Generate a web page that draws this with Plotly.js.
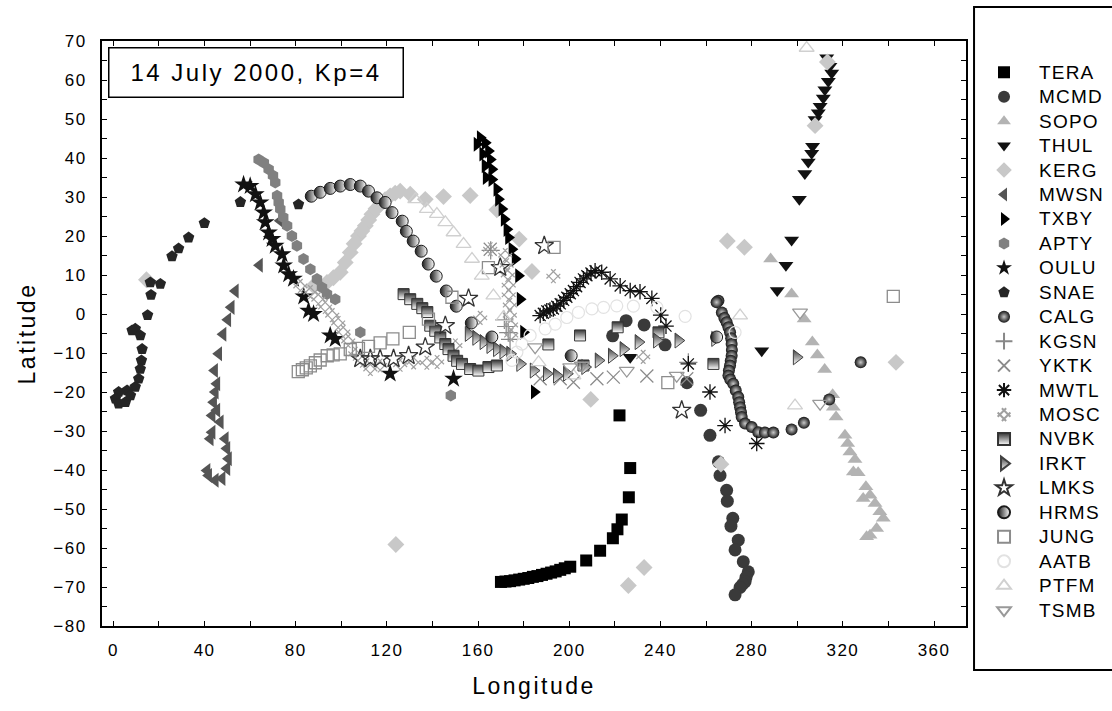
<!DOCTYPE html>
<html>
<head>
<meta charset="utf-8">
<script src="https://cdn.plot.ly/plotly-3.0.1.min.js"></script>
<style>
html,body{margin:0;padding:0;background:#fff;}
#chart{width:1112px;height:711px;}
#chart .legendtext{font-size:19px !important; letter-spacing:1.2px;}
#chart .legend .scrollbox, #chart .legend g{clip-path:none !important;}
#chart .xtick text, #chart .ytick text{letter-spacing:1.5px;}
#chart .g-xtitle text, #chart .g-ytitle text{letter-spacing:2.5px;}
#chart .annotation-text{letter-spacing:2.5px;}
</style>
</head>
<body>
<div id="chart"></div>
<script>
// ---- Data (longitude, latitude) ----
const TERA_lon = [222.0, 226.7, 226.1, 223.0, 221.1, 219.1, 213.5, 207.4, 200.4, 198.0, 196.0, 194.0, 192.0, 190.0, 188.0, 186.0, 184.0, 182.0, 180.0, 178.0, 176.0, 174.0, 172.0, 170.0];
const TERA_lat = [-26.0, -39.5, -47.0, -52.7, -55.2, -57.5, -60.7, -63.2, -64.8, -65.2, -65.6, -66.0, -66.3, -66.6, -66.9, -67.2, -67.4, -67.7, -67.9, -68.1, -68.3, -68.5, -68.6, -68.7];

const MCMD_lon = [219.0, 224.9, 232.8, 242.0, 251.6, 257.6, 261.7, 265.4, 266.1, 269.0, 269.3, 271.7, 270.9, 274.1, 272.7, 276.3, 278.5, 277.5, 277.1, 276.0, 274.9, 272.7];
const MCMD_lat = [-5.6, -1.7, -2.8, -7.9, -17.6, -24.7, -31.1, -37.9, -41.4, -45.2, -48.0, -52.4, -54.4, -58.0, -60.5, -63.5, -66.1, -67.5, -68.6, -69.3, -70.1, -72.0];

const SOPO_lon = [288.3, 297.5, 303.0, 306.6, 308.8, 312.0, 315.5, 315.8, 317.0, 320.9, 322.1, 323.1, 325.3, 324.6, 326.7, 330.1, 328.9, 331.9, 334.1, 336.2, 337.7, 334.8, 331.9, 330.4];
const SOPO_lat = [14.1, 5.1, -1.3, -7.2, -10.5, -14.2, -20.7, -23.9, -26.4, -31.1, -33.2, -35.4, -37.3, -40.5, -40.7, -44.3, -47.3, -46.5, -48.6, -50.7, -52.4, -55.0, -56.7, -57.1];

const THUL_lon = [312.9, 314.3, 315.1, 313.6, 312.1, 311.4, 310.0, 309.2, 307.8, 306.7, 306.3, 304.8, 303.3, 300.9, 297.5, 295.0, 291.2, 284.4, 226.7];
const THUL_lat = [65.7, 63.5, 61.8, 59.7, 57.5, 55.4, 53.3, 51.6, 49.9, 43.0, 41.2, 39.0, 36.0, 29.4, 19.0, 12.5, 6.0, -9.4, -11.1];

const KERG_lon = [14.5, 87.8, 93.7, 96.5, 99.5, 101.7, 103.9, 105.6, 107.5, 109.0, 110.5, 112.0, 113.4, 115.2, 117.0, 119.2, 121.4, 123.6, 125.8, 130.2, 136.8, 144.8, 156.5, 168.2, 178.0, 183.6, 209.4, 232.8, 225.9, 123.9, 266.5, 269.3, 276.8, 307.8, 313.2, 343.3];
const KERG_lat = [8.8, 7.2, 8.1, 9.3, 10.7, 13.2, 15.8, 18.0, 20.0, 21.3, 22.6, 24.1, 25.6, 27.0, 28.1, 29.3, 30.3, 31.0, 31.5, 30.7, 29.4, 30.1, 30.4, 26.7, 19.2, 10.9, -21.9, -65.0, -69.6, -59.1, -38.5, 18.7, 17.1, 48.3, 64.6, -12.4];

const MWSN_lon = [64.1, 73.2, 53.5, 51.7, 50.2, 48.1, 46.2, 44.4, 45.4, 44.7, 44.0, 45.4, 43.3, 46.9, 43.3, 42.5, 49.1, 49.8, 50.5, 49.8, 47.7, 44.7, 41.8, 41.1];
const MWSN_lat = [12.5, 23.9, 5.9, 1.7, -1.5, -5.2, -10.2, -14.5, -17.9, -20.0, -22.6, -24.7, -26.0, -27.7, -30.3, -32.0, -32.0, -34.5, -37.1, -39.6, -42.2, -42.6, -41.4, -40.1];

const TXBY_lon = [160.9, 159.5, 163.1, 162.0, 164.5, 163.0, 165.3, 163.5, 166.0, 166.0, 168.2, 168.9, 170.4, 171.4, 172.6, 173.3, 174.8, 176.2, 177.7, 178.4, 179.9, 184.6];
const TXBY_lat = [45.2, 43.5, 43.9, 41.0, 41.8, 38.0, 39.6, 35.0, 37.1, 34.5, 32.0, 29.4, 26.9, 24.3, 21.7, 19.6, 16.6, 14.1, 9.8, 3.8, -4.7, -20.0];

const APTY_lon = [63.7, 66.0, 68.1, 70.0, 71.0, 71.8, 72.5, 73.2, 74.5, 76.2, 78.3, 80.5, 83.4, 86.4, 89.3, 91.5, 93.7, 97.3, 108.3, 148.0];
const APTY_lat = [39.6, 38.8, 37.1, 35.5, 33.7, 30.3, 28.6, 26.9, 24.8, 22.6, 20.0, 17.5, 14.1, 11.5, 9.0, 6.8, 5.1, 3.8, -4.7, -20.9];

const OULU_lon = [57.1, 60.0, 62.3, 64.4, 65.9, 66.6, 68.1, 69.6, 71.0, 74.0, 74.7, 76.9, 79.0, 83.5, 85.6, 87.8, 95.1, 97.3, 121.4, 149.2];
const OULU_lat = [33.2, 32.8, 30.7, 28.6, 26.0, 23.5, 20.9, 19.2, 17.5, 15.3, 12.4, 10.2, 9.0, 4.5, 0.8, 0.0, -5.5, -6.4, -15.3, -16.6];

const SNAE_lon = [55.7, 81.2, 39.9, 33.0, 28.6, 25.7, 20.6, 16.2, 16.5, 15.0, 9.6, 8.2, 11.8, 12.6, 12.3, 11.8, 11.1, 9.6, 6.0, 2.3, 0.9, 2.3, 5.3, 7.5];
const SNAE_lat = [28.7, 28.1, 23.3, 19.6, 16.8, 14.8, 7.7, 8.1, 4.9, -0.3, -3.8, -4.2, -5.5, -9.0, -11.9, -14.1, -16.6, -18.7, -19.6, -20.0, -21.7, -23.0, -22.6, -20.9];

const CALG_lon = [265.4, 264.6, 266.9, 268.0, 269.0, 269.8, 270.5, 271.0, 271.2, 271.3, 271.2, 270.8, 270.5, 270.0, 269.8, 270.6, 271.9, 273.0, 274.1, 274.5, 274.9, 275.3, 275.6, 277.1, 280.0, 282.9, 285.8, 289.5, 297.5, 302.9, 314.0, 327.8];
const CALG_lat = [3.4, 3.0, 0.4, -1.0, -2.1, -3.4, -4.7, -6.2, -7.7, -9.2, -10.7, -12.0, -13.2, -14.5, -15.8, -16.8, -17.9, -19.6, -21.3, -22.6, -23.9, -25.2, -26.4, -28.1, -29.0, -30.3, -30.4, -30.4, -29.6, -27.9, -21.9, -12.4];

const KGSN_lon = [165.5, 171.5, 172.3, 173.2, 174.0, 252.2];
const KGSN_lat = [16.3, -1.5, -3.2, -4.8, -6.5, -12.4];

const YKTK_lon = [165.3, 187.2, 196.0, 201.8, 212.1, 219.3, 234.0, 251.5];
const YKTK_lat = [16.6, -16.6, -16.6, -17.5, -16.6, -16.2, -15.9, -16.6];

const MWTL_lon = [187.2, 188.6, 190.1, 191.5, 193.0, 194.5, 196.0, 197.5, 198.9, 200.4, 201.8, 203.2, 204.7, 206.2, 207.7, 209.5, 211.3, 214.2, 217.9, 222.3, 226.7, 231.0, 236.2, 240.1, 242.4, 252.2, 261.7, 268.3, 282.2];
const MWTL_lat = [-0.4, 0.2, 0.8, 1.0, 1.3, 2.0, 2.6, 3.5, 4.3, 5.2, 6.0, 7.0, 8.1, 9.0, 9.8, 10.5, 11.1, 10.7, 9.0, 7.2, 6.0, 5.7, 4.0, -0.3, -3.1, -12.8, -20.0, -28.6, -33.2];

const MOSC_lon = [82.0, 86.4, 89.9, 92.9, 96.0, 98.6, 100.8, 103.0, 106.1, 109.2, 112.7, 117.0, 125.8, 131.7, 137.5, 142.0, 150.0, 160.9, 165.3, 171.9, 172.5, 173.0, 173.4, 173.4, 173.9, 173.9, 174.4, 174.5, 193.0, 232.4];
const MOSC_lat = [7.2, 5.6, 3.8, 1.8, -0.3, -2.3, -4.6, -6.9, -10.2, -12.0, -14.1, -13.2, -13.0, -12.4, -12.5, -12.3, -8.1, -1.0, 16.6, 15.1, 12.5, 10.0, 7.4, 4.9, 2.3, -0.3, -2.8, -5.4, 9.7, -11.0];

const NVBK_lon = [127.3, 130.2, 133.3, 135.5, 137.7, 139.0, 141.2, 143.4, 145.6, 147.0, 149.2, 150.8, 152.9, 156.5, 160.1, 164.5, 168.2, 190.8, 204.7, 206.2, 221.2, 239.1, 263.2];
const NVBK_lat = [5.1, 3.8, 2.6, 1.5, 0.5, -3.0, -4.3, -6.0, -7.7, -9.0, -10.7, -12.0, -12.8, -14.1, -14.5, -13.6, -13.2, -7.8, -5.5, -13.2, -3.4, -4.7, -12.8];

const IRKT_lon = [155.8, 159.1, 162.3, 165.3, 168.2, 171.0, 174.0, 178.4, 184.3, 190.1, 194.5, 198.9, 206.9, 212.8, 218.6, 223.7, 230.3, 238.4, 247.8, 263.9, 299.7];
const IRKT_lat = [-5.1, -6.1, -7.2, -8.2, -9.0, -9.6, -10.2, -12.8, -14.5, -15.3, -15.8, -15.3, -13.6, -11.9, -10.7, -9.0, -7.2, -6.8, -6.8, -6.4, -11.1];

const LMKS_lon = [108.3, 112.7, 117.0, 122.9, 129.5, 136.8, 145.6, 155.8, 169.7, 189.0, 249.3];
const LMKS_lat = [-11.5, -11.5, -11.5, -11.5, -10.7, -8.5, -3.0, 4.0, 11.9, 17.5, -24.7];

const HRMS_lon = [86.8, 90.7, 95.1, 99.5, 103.9, 108.3, 111.9, 115.6, 119.2, 122.2, 126.7, 128.5, 131.5, 135.0, 138.1, 141.6, 146.0, 150.4, 157.0, 166.0, 200.8, 264.6];
const HRMS_lat = [30.2, 31.2, 32.2, 32.8, 33.2, 32.8, 31.5, 29.8, 28.6, 26.0, 23.8, 21.2, 18.7, 16.1, 12.8, 9.7, 5.9, 2.0, -2.3, -5.9, -10.7, -5.9];

const JUNG_lon = [81.1, 82.9, 84.6, 86.4, 88.6, 90.7, 93.8, 96.4, 99.5, 103.9, 107.5, 111.9, 117.0, 122.6, 129.8, 138.2, 148.5, 164.5, 193.3, 243.2, 342.1];
const JUNG_lat = [-14.8, -14.3, -13.8, -13.3, -12.5, -11.8, -10.7, -10.5, -10.2, -9.1, -8.8, -8.3, -7.4, -6.4, -4.7, -1.3, 4.3, 11.9, 17.1, -17.6, 4.5];

const AATB_lon = [174.8, 177.0, 179.2, 182.8, 189.4, 193.8, 198.9, 204.0, 209.9, 215.0, 220.8, 228.1, 238.4, 250.8, 272.7];
const AATB_lat = [-11.9, -9.8, -7.7, -5.5, -3.8, -2.6, -0.9, 0.4, 1.3, 1.7, 2.1, 2.0, 1.7, -0.6, -4.7];

const PTFM_lon = [132.4, 137.5, 141.9, 145.6, 149.2, 153.6, 157.3, 161.6, 166.7, 171.1, 186.5, 201.8, 304.1, 274.9, 299.0];
const PTFM_lat = [29.4, 26.9, 25.6, 23.5, 20.9, 17.9, 14.1, 9.8, 4.7, -0.8, -12.4, -15.8, 68.2, -0.4, -23.5];

const TSMB_lon = [185.0, 200.4, 205.5, 225.2, 247.1, 301.2, 310.0];
const TSMB_lat = [-8.5, -13.6, -13.2, -14.5, -15.8, 0.4, -23.0];

const stations = ['TERA','MCMD','SOPO','THUL','KERG','MWSN','TXBY','APTY','OULU','SNAE','CALG','KGSN','YKTK','MWTL','MOSC','NVBK','IRKT','LMKS','HRMS','JUNG','AATB','PTFM','TSMB'];
const lons = [TERA_lon, MCMD_lon, SOPO_lon, THUL_lon, KERG_lon, MWSN_lon, TXBY_lon, APTY_lon, OULU_lon, SNAE_lon, CALG_lon, KGSN_lon, YKTK_lon, MWTL_lon, MOSC_lon, NVBK_lon, IRKT_lon, LMKS_lon, HRMS_lon, JUNG_lon, AATB_lon, PTFM_lon, TSMB_lon];
const lats = [TERA_lat, MCMD_lat, SOPO_lat, THUL_lat, KERG_lat, MWSN_lat, TXBY_lat, APTY_lat, OULU_lat, SNAE_lat, CALG_lat, KGSN_lat, YKTK_lat, MWTL_lat, MOSC_lat, NVBK_lat, IRKT_lat, LMKS_lat, HRMS_lat, JUNG_lat, AATB_lat, PTFM_lat, TSMB_lat];

// ---- Marker styles ----
const styles = {
  TERA: {symbol:'square', size:12, color:'#000000'},
  MCMD: {symbol:'circle', size:13, color:'#3a3a3a'},
  SOPO: {symbol:'triangle-up', size:13, color:'#b3b3b3'},
  THUL: {symbol:'triangle-down', size:13, color:'#111111'},
  KERG: {symbol:'diamond', size:13, color:'#c8c8c8'},
  MWSN: {symbol:'triangle-left', size:13, color:'#555555'},
  TXBY: {symbol:'triangle-right', size:13, color:'#000000'},
  APTY: {symbol:'hexagon', size:12, color:'#808080'},
  OULU: {symbol:'star', size:14, color:'#111111'},
  SNAE: {symbol:'pentagon', size:12, color:'#252525'},
  CALG: {symbol:'circle', size:12, color:'#151515', gradient:{type:'radial', color:'#c8c8c8'}},
  KGSN: {symbol:'cross-thin-open', size:13, color:'#888888', lw:1.2},
  YKTK: {symbol:'x-thin-open', size:13, color:'#8a8a8a', lw:1.2},
  MWTL: {symbol:'asterisk-open', size:13, color:'#111111', lw:1.3},
  MOSC: {symbol:'hash-open', size:13, color:'#a0a0a0', lw:1.2, angle:45},
  NVBK: {symbol:'square', size:11, color:'#333333', gradient:{type:'vertical', color:'#ffffff'}, line:'#333333'},
  IRKT: {symbol:'triangle-right', size:13, color:'#404040', gradient:{type:'vertical', color:'#ffffff'}, line:'#404040'},
  LMKS: {symbol:'star-open', size:14, color:'#333333', lw:1.3},
  HRMS: {symbol:'circle', size:12, color:'#1a1a1a', gradient:{type:'horizontal', color:'#ffffff'}, line:'#1a1a1a'},
  JUNG: {symbol:'square-open', size:12, color:'#8c8c8c', lw:1.3},
  AATB: {symbol:'circle-open', size:12, color:'#e2e2e2', lw:1.2},
  PTFM: {symbol:'triangle-up-open', size:13, color:'#d0d0d0', lw:1.3},
  TSMB: {symbol:'triangle-down-open', size:13, color:'#999999', lw:1.3}
};

const traces = stations.map((name, i) => {
  const s = styles[name];
  const marker = {symbol: s.symbol, size: s.size, color: s.color};
  if (s.gradient) marker.gradient = s.gradient;
  if (s.angle) marker.angle = s.angle;
  if (s.line) marker.line = {color: s.line, width: 1};
  else if (s.lw) marker.line = {color: s.color, width: s.lw};
  else marker.line = {width: 0};
  return {type:'scatter', mode:'markers', name: name, x: lons[i], y: lats[i], marker: marker, cliponaxis: true};
});

const axisCommon = {
  showline:true, linewidth:2, linecolor:'#000', mirror:'ticks',
  ticks:'inside', ticklen:5, tickwidth:1, tickcolor:'#000',
  showgrid:false, zeroline:false,
  tickfont:{size:17, color:'#000'}
};

const layout = {
  width:1112, height:711,
  margin:{l:102, r:146, t:41, b:85},
  paper_bgcolor:'#ffffff', plot_bgcolor:'#ffffff',
  font:{family:'Arial, "Liberation Sans", sans-serif', color:'#000'},
  showlegend:true,
  xaxis: Object.assign({}, axisCommon, {
    range:[-5, 374], tick0:0, dtick:40,
    minor:{dtick:20, ticks:'inside', ticklen:5, tickcolor:'#000'},
    ticklabelstandoff:8,
    title:{text:'Longitude', font:{size:23}, standoff:18}
  }),
  yaxis: Object.assign({}, axisCommon, {
    range:[-80, 70], tick0:0, dtick:10,
    minor:{dtick:5, ticks:'inside', ticklen:5, tickcolor:'#000'},
    ticklabelstandoff:10,
    title:{text:'Latitude', font:{size:23}, standoff:16}
  }),
  legend:{
    x:1.0035, y:0.976, xanchor:'left', yanchor:'top',
    bgcolor:'rgba(0,0,0,0)', borderwidth:0, itemsizing:'constant',
    font:{size:16.5, color:'#000'}, itemwidth:60, tracegroupgap:0
  },
  shapes:[{
    type:'rect', xref:'paper', yref:'paper',
    x0:1.0093, x1:1.1725, y0:-0.0752, y1:1.0581,
    line:{color:'#000', width:2}, fillcolor:'rgba(0,0,0,0)', layer:'below'
  }],
  annotations:[{
    xref:'paper', yref:'paper', x:0.0069, y:0.9897, xanchor:'left', yanchor:'top',
    text:'14 July 2000, Kp=4', showarrow:false, font:{size:24, color:'#000'},
    bordercolor:'#000', borderwidth:1.5, borderpad:0, bgcolor:'#ffffff',
    width:293, height:48
  }]
};

Plotly.newPlot('chart', traces, layout, {displayModeBar:false, staticPlot:true});
</script>
</body>
</html>
